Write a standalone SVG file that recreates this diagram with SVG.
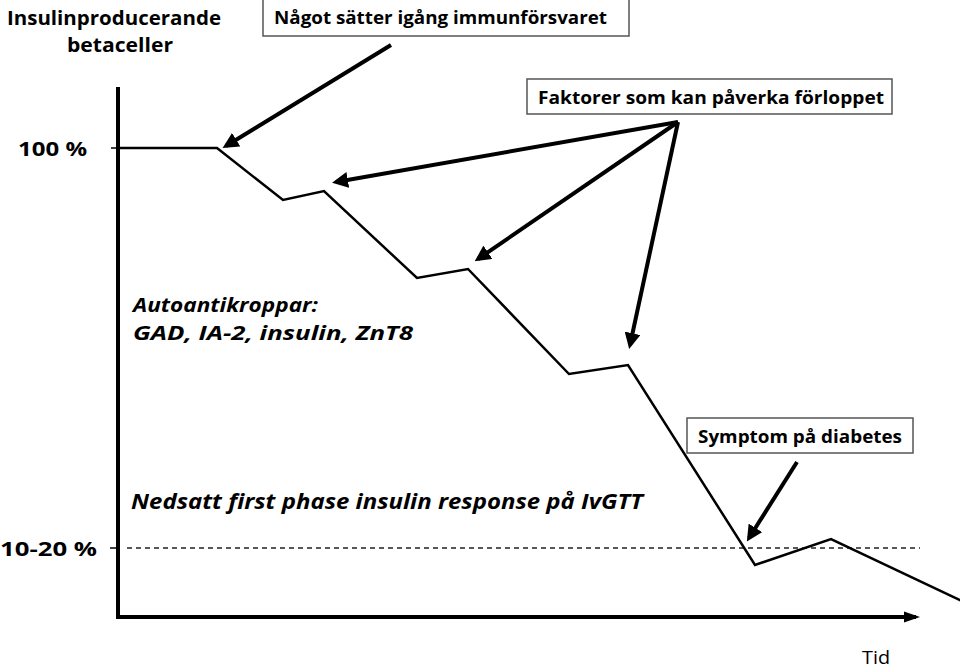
<svg xmlns="http://www.w3.org/2000/svg" width="960" height="669" viewBox="0 0 960 669">
<defs>
<marker id="ah" markerWidth="4" markerHeight="4" refX="3" refY="2" orient="auto" markerUnits="strokeWidth">
<path d="M0,0 L4,2 L0,4 z" fill="#000"/>
</marker>
<marker id="ahx" markerWidth="4" markerHeight="4" refX="3" refY="2" orient="auto" markerUnits="strokeWidth">
<path d="M0,0.6 L4,2 L0,3.4 z" fill="#000"/>
</marker>
</defs>
<style>
text{font-family:"Open Sans","Liberation Sans",sans-serif;fill:#000}
.b{font-weight:bold}
.i{font-style:italic;font-weight:bold}
.box{fill:#fff;stroke:#555;stroke-width:1.5}
.arr{stroke:#000;stroke-width:4;fill:none;marker-end:url(#ah)}
.curve{stroke:#000;stroke-width:2.5;fill:none;stroke-linejoin:miter}
</style>
<rect width="960" height="669" fill="#fff"/>

<g id="axes">
<line x1="118" y1="87" x2="118" y2="617" stroke="#000" stroke-width="4"/>
<line x1="116" y1="617" x2="916" y2="617" stroke="#000" stroke-width="4" marker-end="url(#ahx)"/>
<line x1="111" y1="148" x2="118" y2="148" stroke="#000" stroke-width="1.5"/>
<line x1="110" y1="548" x2="118" y2="548" stroke="#000" stroke-width="1.5"/>
<line x1="127" y1="548" x2="920" y2="548" stroke="#222" stroke-width="1.3" stroke-dasharray="5,4"/>
</g>

<g id="labels">
<text class="b" x="114" y="25" font-size="20" text-anchor="middle" textLength="214" lengthAdjust="spacingAndGlyphs">Insulinproducerande</text>
<text class="b" x="120" y="52" font-size="20" text-anchor="middle" textLength="106" lengthAdjust="spacingAndGlyphs">betaceller</text>
<text class="b" x="18" y="156" font-size="20" textLength="69" lengthAdjust="spacingAndGlyphs">100 %</text>
<text class="b" x="0" y="556" font-size="20" textLength="97" lengthAdjust="spacingAndGlyphs">10-20 %</text>
<text class="i" x="133" y="312" font-size="20" textLength="185" lengthAdjust="spacingAndGlyphs">Autoantikroppar:</text>
<text class="i" x="133" y="340" font-size="20" textLength="280" lengthAdjust="spacingAndGlyphs">GAD, IA-2, insulin, ZnT8</text>
<text class="i" x="131" y="509" font-size="22" textLength="512" lengthAdjust="spacingAndGlyphs">Nedsatt first phase insulin response på IvGTT</text>
<text x="862" y="664" font-size="18" textLength="28" lengthAdjust="spacingAndGlyphs">Tid</text>
</g>

<g id="node-immun">
<rect class="box" x="263" y="-2" width="366" height="38"/>
<text class="b" x="274" y="24" font-size="17" textLength="333" lengthAdjust="spacingAndGlyphs">Något sätter igång immunförsvaret</text>
</g>

<g id="node-faktorer">
<rect class="box" x="527" y="79" width="365" height="35"/>
<text class="b" x="538" y="104" font-size="17" textLength="346" lengthAdjust="spacingAndGlyphs">Faktorer som kan påverka förloppet</text>
</g>

<g id="node-symptom">
<rect class="box" x="687" y="418" width="226" height="35"/>
<text class="b" x="698" y="443" font-size="17" textLength="204" lengthAdjust="spacingAndGlyphs">Symptom på diabetes</text>
</g>

<g id="curve">
<polyline class="curve" points="118,148 217,148 283,200 324,191 417,278 468,269 569,374 628,365 755,565 831,539 962,601"/>
</g>

<g id="connectors">
<line class="arr" x1="391" y1="45" x2="226" y2="146"/>
<line class="arr" x1="678" y1="122" x2="336" y2="182"/>
<line class="arr" x1="678" y1="122" x2="478" y2="259"/>
<line class="arr" x1="678" y1="122" x2="630" y2="345"/>
<line class="arr" x1="797" y1="462" x2="749" y2="538"/>
</g>
</svg>
